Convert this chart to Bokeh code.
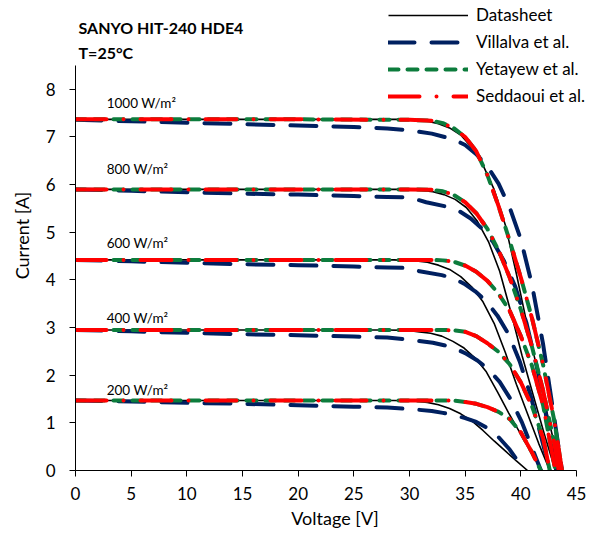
from bokeh.plotting import figure
from bokeh.models import Range1d, FixedTicker, Label, Legend, LegendItem
from bokeh.embed import file_html
from bokeh.resources import INLINE

# ---- I-V data, SANYO HIT-240 HDE4 at 25 °C (voltage in V, current in A) ----
irradiance_labels = ["1000 W/m²", "800 W/m²", "600 W/m²", "400 W/m²", "200 W/m²"]
irradiance_label_v = [2.8, 2.8, 2.8, 2.8, 2.8]
irradiance_label_i = [7.72, 6.32, 4.77, 3.21, 1.68]

# Datasheet curves
ds_v_1000 = [0, 10, 20, 25, 29.6, 31.6, 32.6, 33.6, 34.6, 35.6, 36.6, 37.6, 38.6, 39.6, 40.6, 41.6, 42.6, 43.6]
ds_i_1000 = [7.37, 7.37, 7.37, 7.37, 7.37, 7.33, 7.28, 7.19, 7.04, 6.78, 6.41, 5.90, 5.16, 4.13, 3.02, 1.99, 0.96, 0.0]
ds_v_800 = [0, 10, 20, 25, 29.1, 31.1, 32.1, 33.1, 34.1, 35.1, 36.1, 37.1, 38.1, 39.1, 40.1, 41.1, 42.1, 43.1]
ds_i_800 = [5.90, 5.90, 5.90, 5.90, 5.90, 5.88, 5.85, 5.79, 5.69, 5.52, 5.23, 4.80, 4.18, 3.33, 2.42, 1.59, 0.77, 0.0]
ds_v_600 = [0, 10, 20, 25, 28.6, 30.6, 31.6, 32.6, 33.6, 34.6, 35.6, 36.6, 37.6, 38.6, 39.6, 40.6, 41.6, 42.6]
ds_i_600 = [4.42, 4.42, 4.42, 4.42, 4.42, 4.40, 4.37, 4.31, 4.22, 4.07, 3.85, 3.54, 3.09, 2.48, 1.81, 1.19, 0.57, 0.0]
ds_v_400 = [0, 10, 20, 25, 27.9, 29.9, 30.9, 31.9, 32.9, 33.9, 34.9, 35.9, 36.9, 37.9, 38.9, 39.9, 40.9, 41.9]
ds_i_400 = [2.95, 2.95, 2.95, 2.95, 2.95, 2.94, 2.91, 2.88, 2.82, 2.71, 2.57, 2.36, 2.07, 1.65, 1.21, 0.80, 0.38, 0.0]
ds_v_200 = [0, 10, 20, 25, 28.6, 29.6, 30.6, 31.6, 32.6, 33.6, 34.6, 35.6, 36.6, 37.6, 38.6, 39.6, 40.6]
ds_i_200 = [1.47, 1.47, 1.47, 1.47, 1.47, 1.465, 1.455, 1.43, 1.38, 1.30, 1.19, 1.04, 0.84, 0.62, 0.41, 0.20, 0.0]

# Villalva et al. model
vl_v_1000 = [0, 5, 10, 15, 20, 25, 28, 30, 32, 34, 35, 36, 37, 38, 39, 40, 41, 42, 43, 43.7]
vl_i_1000 = [7.36, 7.33, 7.30, 7.27, 7.24, 7.21, 7.18, 7.14, 7.07, 6.95, 6.83, 6.64, 6.38, 6.02, 5.52, 4.85, 3.90, 2.65, 1.10, 0.0]
vl_v_800 = [0, 5, 10, 15, 20, 25, 28, 30, 31.5, 33.5, 34.5, 35.5, 36.5, 37.5, 38.5, 39.5, 40.5, 41.5, 42.5, 43.2]
vl_i_800 = [5.90, 5.87, 5.84, 5.81, 5.79, 5.76, 5.74, 5.73, 5.63, 5.53, 5.44, 5.29, 5.08, 4.80, 4.39, 3.86, 3.10, 2.11, 0.87, 0.0]
vl_v_600 = [0, 5, 10, 15, 20, 25, 28, 30, 30.9, 32.9, 33.9, 34.9, 35.9, 36.9, 37.9, 38.9, 39.9, 40.9, 41.9, 42.6]
vl_i_600 = [4.42, 4.39, 4.36, 4.33, 4.31, 4.28, 4.26, 4.25, 4.18, 4.10, 4.04, 3.92, 3.76, 3.55, 3.25, 2.86, 2.29, 1.56, 0.64, 0.0]
vl_v_400 = [0, 5, 10, 15, 20, 25, 28, 30.1, 32.1, 33.1, 34.1, 35.1, 36.1, 37.1, 38.1, 39.1, 40.1, 41.1, 41.8]
vl_i_400 = [2.95, 2.92, 2.89, 2.86, 2.84, 2.81, 2.79, 2.74, 2.68, 2.63, 2.56, 2.45, 2.31, 2.12, 1.86, 1.49, 1.01, 0.42, 0.0]
vl_v_200 = [0, 5, 10, 15, 20, 25, 28, 30, 32, 33, 34, 35, 36, 37, 38, 39, 40, 40.3]
vl_i_200 = [1.47, 1.45, 1.42, 1.40, 1.37, 1.34, 1.32, 1.29, 1.25, 1.21, 1.16, 1.10, 1.02, 0.89, 0.70, 0.44, 0.11, 0.0]

# Yetayew et al. model
ye_v_1000 = [0, 10, 20, 30, 32, 33, 34, 35, 36, 37, 38, 39, 40, 41, 42, 43, 43.7]
ye_i_1000 = [7.37, 7.37, 7.37, 7.36, 7.34, 7.29, 7.18, 7.00, 6.70, 6.20, 5.55, 4.82, 4.05, 3.20, 2.22, 1.05, 0.0]
ye_v_800 = [0, 10, 20, 30, 32, 33, 34, 35, 36, 37, 38, 39, 40, 41, 42, 43, 43.4]
ye_i_800 = [5.90, 5.90, 5.90, 5.90, 5.89, 5.86, 5.78, 5.63, 5.40, 5.07, 4.62, 4.05, 3.38, 2.60, 1.68, 0.58, 0.0]
ye_v_600 = [0, 10, 20, 30, 32, 33, 34, 35, 36, 37, 38, 39, 40, 41, 42, 43.1]
ye_i_600 = [4.42, 4.42, 4.42, 4.42, 4.42, 4.41, 4.38, 4.30, 4.17, 3.98, 3.71, 3.35, 2.82, 2.20, 1.37, 0.0]
ye_v_400 = [0, 10, 20, 30, 33, 34, 35, 36, 37, 38, 39, 40, 41, 42, 42.6]
ye_i_400 = [2.95, 2.95, 2.95, 2.95, 2.95, 2.94, 2.91, 2.82, 2.67, 2.49, 2.23, 1.85, 1.35, 0.68, 0.0]
ye_v_200 = [0, 10, 20, 30, 33, 34, 35, 36, 37, 38, 39, 40, 41, 41.8]
ye_i_200 = [1.47, 1.47, 1.47, 1.47, 1.47, 1.465, 1.44, 1.40, 1.33, 1.23, 1.08, 0.80, 0.38, 0.0]

# Seddaoui et al. model
sd_v_1000 = [0, 10, 20, 30, 32, 33, 34, 35, 36, 37, 38, 39, 40, 41, 42, 43, 43.7]
sd_i_1000 = [7.37, 7.37, 7.37, 7.36, 7.34, 7.29, 7.18, 7.00, 6.70, 6.20, 5.55, 4.82, 4.05, 3.20, 2.22, 1.05, 0.0]
sd_v_800 = [0, 10, 20, 30, 32, 33, 34, 35, 36, 37, 38, 39, 40, 41, 42, 43, 43.4]
sd_i_800 = [5.90, 5.90, 5.90, 5.90, 5.89, 5.86, 5.78, 5.63, 5.40, 5.07, 4.62, 4.05, 3.38, 2.60, 1.68, 0.58, 0.0]
sd_v_600 = [0, 10, 20, 30, 32, 33, 34, 35, 36, 37, 38, 39, 40, 41, 42, 43.1]
sd_i_600 = [4.42, 4.42, 4.42, 4.42, 4.42, 4.41, 4.38, 4.30, 4.17, 3.98, 3.71, 3.35, 2.82, 2.20, 1.37, 0.0]
sd_v_400 = [0, 10, 20, 30, 33, 34, 35, 36, 37, 38, 39, 40, 41, 42, 42.6]
sd_i_400 = [2.95, 2.95, 2.95, 2.95, 2.95, 2.94, 2.91, 2.82, 2.67, 2.49, 2.23, 1.85, 1.35, 0.68, 0.0]
sd_v_200 = [0, 10, 20, 30, 33, 34, 35, 36, 37, 38, 39, 40, 41, 41.8]
sd_i_200 = [1.47, 1.47, 1.47, 1.47, 1.47, 1.465, 1.44, 1.40, 1.33, 1.23, 1.08, 0.80, 0.38, 0.0]

x_ticks = [0, 5, 10, 15, 20, 25, 30, 35, 40, 45]
y_ticks = [0, 1, 2, 3, 4, 5, 6, 7, 8]
x_axis_bounds = (0, 45)
y_axis_bounds = (0, 8.5)

FONT = "Lato"

# The frame fills the canvas to the top and right edges so that the heading and
# legend (which sit above the axes) are not clipped; the axes themselves are
# limited to their bounds.
PX_PER_V = 501 / 45.0
PX_PER_A = 405 / 8.5
p = figure(width=594, height=538, output_backend="svg", toolbar_location=None,
           x_range=Range1d(0, 519 / PX_PER_V), y_range=Range1d(0, 470 / PX_PER_A),
           min_border_left=75, min_border_right=0, min_border_top=0, min_border_bottom=68)
p.background_fill_color = "white"
p.border_fill_color = "white"
p.outline_line_color = None
p.xgrid.visible = False
p.ygrid.visible = False

for ax in (p.xaxis[0], p.yaxis[0]):
    ax.axis_line_color = "black"
    ax.axis_line_width = 1
    ax.major_tick_line_color = "black"
    ax.major_tick_in = 0
    ax.major_tick_out = 6
    ax.minor_tick_line_color = None
    ax.major_label_text_font = FONT
    ax.major_label_text_font_size = "17px"
    ax.major_label_text_color = "black"
    ax.axis_label_text_font = FONT
    ax.axis_label_text_font_size = "18px"
    ax.axis_label_text_font_style = "normal"
    ax.axis_label_text_color = "black"

p.xaxis.ticker = FixedTicker(ticks=x_ticks)
p.yaxis.ticker = FixedTicker(ticks=y_ticks)
p.xaxis.bounds = x_axis_bounds
p.yaxis.bounds = y_axis_bounds
p.xaxis.axis_label = "Voltage [V]"
p.yaxis.axis_label = "Current [A]"
p.xaxis.major_label_standoff = 10
p.yaxis.major_label_standoff = 14
p.xaxis.axis_label_standoff = 4
p.yaxis.axis_label_standoff = 10

datasheet = [(ds_v_1000, ds_i_1000), (ds_v_800, ds_i_800), (ds_v_600, ds_i_600),
             (ds_v_400, ds_i_400), (ds_v_200, ds_i_200)]
villalva = [(vl_v_1000, vl_i_1000), (vl_v_800, vl_i_800), (vl_v_600, vl_i_600),
            (vl_v_400, vl_i_400), (vl_v_200, vl_i_200)]
yetayew = [(ye_v_1000, ye_i_1000), (ye_v_800, ye_i_800), (ye_v_600, ye_i_600),
           (ye_v_400, ye_i_400), (ye_v_200, ye_i_200)]
seddaoui = [(sd_v_1000, sd_i_1000), (sd_v_800, sd_i_800), (sd_v_600, sd_i_600),
            (sd_v_400, sd_i_400), (sd_v_200, sd_i_200)]

styles = {
    "Datasheet": dict(line_color="black", line_width=1.6, line_dash="solid"),
    "Villalva et al.": dict(line_color="#002060", line_width=4, line_dash="26 17",
                            line_cap="round"),
    "Yetayew et al.": dict(line_color="#0C7C3C", line_width=4, line_dash="10 9",
                           line_cap="round"),
    "Seddaoui et al.": dict(line_color="#FF0000", line_width=4, line_dash="31 17 0 17",
                            line_cap="round"),
}

first_renderer = {}
for name, curves in [("Datasheet", datasheet), ("Villalva et al.", villalva),
                     ("Yetayew et al.", yetayew), ("Seddaoui et al.", seddaoui)]:
    for v, i in curves:
        r = p.line(v, i, line_join="round", **styles[name])
        first_renderer.setdefault(name, r)

legend = Legend(
    items=[LegendItem(label=n, renderers=[first_renderer[n]])
           for n in ["Datasheet", "Villalva et al.", "Yetayew et al.", "Seddaoui et al."]],
    location=(313, 364), orientation="vertical",
    glyph_width=80, glyph_height=20, label_height=20, spacing=6,
    padding=0, margin=0, label_standoff=8,
    label_text_font=FONT, label_text_font_size="17px", label_text_color="black",
    background_fill_alpha=0, border_line_color=None,
)
p.add_layout(legend)

# Chart heading, top-left
p.add_layout(Label(x=3, y=443, x_units="screen", y_units="screen",
                   text="SANYO HIT-240 HDE4", text_font=FONT, text_font_size="16px",
                   text_font_style="bold", text_baseline="alphabetic", text_color="black"))
p.add_layout(Label(x=3, y=418, x_units="screen", y_units="screen",
                   text="T=25°C", text_font=FONT, text_font_size="16px",
                   text_font_style="bold", text_baseline="alphabetic", text_color="black"))

# Irradiance annotations next to each curve
for txt, xv, yv in zip(irradiance_labels, irradiance_label_v, irradiance_label_i):
    p.add_layout(Label(x=xv, y=yv, text=txt, text_font=FONT, text_font_size="13.5px",
                       text_baseline="middle", text_color="black"))

open("out.html", "w").write(file_html(p, INLINE))
